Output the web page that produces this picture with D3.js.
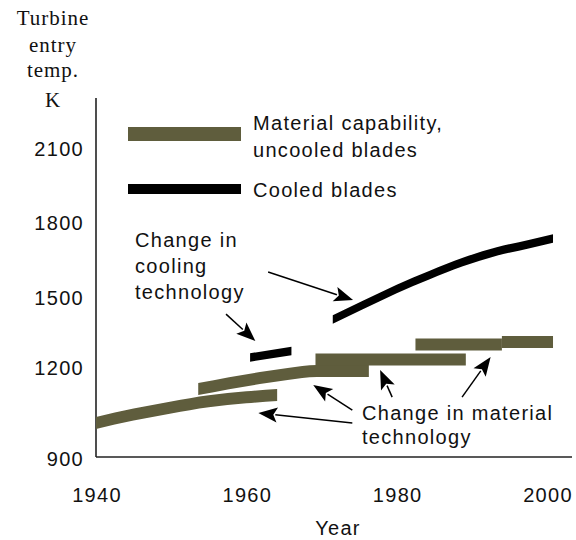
<!DOCTYPE html>
<html>
<head>
<meta charset="utf-8">
<script src="https://cdn.jsdelivr.net/npm/d3@7"></script>
<style>
  html, body { margin: 0; padding: 0; background: #fff; }
  svg { display: block; }
  .sans { font-family: "Liberation Sans", Arial, sans-serif; font-size: 20px; letter-spacing: 1.3px; fill: #111; }
  .serif { font-family: "Liberation Serif", "Times New Roman", serif; font-size: 21px; letter-spacing: 1px; fill: #111; }
</style>
</head>
<body>
<svg id="chart" width="576" height="540"></svg>
<script>
// ---- Data (year, temperature K) ----
const xTicks = [1940, 1960, 1980, 2000];
const yTicks = [900, 1200, 1500, 1800, 2100];

// Material capability, uncooled blades (olive bands)
const material1 = [[1940, 1015], [1945, 1043], [1950, 1067], [1955, 1088], [1960, 1101], [1964.1, 1109]];
const material2 = [[1953.6, 1129], [1957.7, 1149], [1961.8, 1166], [1965.5, 1180], [1969.4, 1190], [1976.3, 1190]];
const material3 = [[1969.2, 1236], [1989.2, 1236]];
const material4 = [[1982.5, 1301], [1994, 1301]];
const material5 = [[1994, 1311], [2000.8, 1311]];

// Cooled blades (black)
const cooled1 = [[1960.5, 1245], [1966, 1273]];
const cooled2 = [[1971.5, 1408], [1975.5, 1470], [1980, 1536], [1984.4, 1592], [1988.8, 1644], [1993.3, 1686], [1997.7, 1716], [2000.8, 1738]];

// Annotation arrows: [from, tip] in data units
const coolingArrows = [
  [[1962.9, 1604], [1974.2, 1491]],
  [[1957.3, 1431], [1961.2, 1316]]
];
const materialArrows = [
  [[1974.1, 1015], [1961.6, 1048]],
  [[1974.1, 1058], [1968.9, 1143]],
  [[1979.4, 1102], [1977.8, 1193]],
  [[1988.7, 1102], [1992.5, 1247]]
];

const yTitle = ["Turbine", "entry", "temp.", "K"];
const legendLabels = [["Material capability,", "uncooled blades"], ["Cooled blades"]];
const coolingText = ["Change in", "cooling", "technology"];
const materialText = ["Change in material", "technology"];
const xTitle = "Year";

// ---- Drawing ----
const OLIVE = "#5f5d3d";
const svg = d3.select("#chart");

const x = d3.scaleLinear().domain([1940, 2000]).range([96, 547]);
const y = d3.scaleLinear().domain(yTicks).range([457, 368, 298, 223, 149]);

// Axes lines
svg.append("line").attr("x1", x(1940)).attr("x2", 572).attr("y1", y(900)).attr("y2", y(900))
  .attr("stroke", "#222").attr("stroke-width", 1.6);
svg.append("line").attr("x1", x(1940)).attr("x2", x(1940)).attr("y1", 98).attr("y2", y(900))
  .attr("stroke", "#222").attr("stroke-width", 1.6);

// Tick labels
svg.selectAll(".ylab").data(yTicks).join("text")
  .attr("class", "sans")
  .attr("x", 84).attr("y", d => y(d) + (d === 900 ? 2 : 0)).attr("dy", "0.36em")
  .attr("text-anchor", "end").text(d => d);
svg.selectAll(".xlab").data(xTicks).join("text")
  .attr("class", "sans")
  .attr("x", d => x(d) + 1).attr("y", 502)
  .attr("text-anchor", "middle").text(d => d);
svg.append("text").attr("class", "sans").attr("x", 338).attr("y", 535)
  .attr("text-anchor", "middle").text(xTitle);

// Y title
const yBase = [25, 52, 77, 107];
svg.selectAll(".ytitle").data(yTitle).join("text")
  .attr("class", "serif").attr("x", 53).attr("y", (d, i) => yBase[i])
  .attr("text-anchor", "middle").text(d => d);

// Bands
function band(data, half, color) {
  const a = d3.area()
    .x(d => x(d[0]))
    .y0(d => y(d[1]) + half)
    .y1(d => y(d[1]) - half)
    .curve(d3.curveMonotoneX);
  svg.append("path").attr("d", a(data)).attr("fill", color);
}
[material1, material2, material3, material4, material5].forEach(d => band(d, 6, OLIVE));
[cooled1, cooled2].forEach(d => band(d, 4.2, "#000"));

// Legend
svg.append("rect").attr("x", 128).attr("y", 127).attr("width", 113).attr("height", 14).attr("fill", OLIVE);
svg.append("rect").attr("x", 128).attr("y", 184).attr("width", 113).attr("height", 10).attr("fill", "#000");
svg.append("text").attr("class", "sans").attr("x", 253).attr("y", 130).text(legendLabels[0][0]);
svg.append("text").attr("class", "sans").attr("x", 253).attr("y", 157).text(legendLabels[0][1]);
svg.append("text").attr("class", "sans").attr("x", 253).attr("y", 197).text(legendLabels[1][0]);

// Annotation text
svg.selectAll(".ctext").data(coolingText).join("text")
  .attr("class", "sans").attr("x", 135).attr("y", (d, i) => 247 + i * 26).text(d => d);
svg.selectAll(".mtext").data(materialText).join("text")
  .attr("class", "sans").attr("x", 362).attr("y", (d, i) => 420 + i * 24).text(d => d);

// Arrows
function arrow(pair) {
  const [x0, y0] = [x(pair[0][0]), y(pair[0][1])];
  const [x1, y1] = [x(pair[1][0]), y(pair[1][1])];
  const dx = x1 - x0, dy = y1 - y0, len = Math.hypot(dx, dy);
  const ux = dx / len, uy = dy / len;
  const L = 19, W = 7.5;
  const bx = x1 - ux * L, by = y1 - uy * L;
  svg.append("line").attr("x1", x0).attr("y1", y0).attr("x2", bx + ux * 2).attr("y2", by + uy * 2)
    .attr("stroke", "#000").attr("stroke-width", 1.5);
  svg.append("polygon")
    .attr("points", [[x1, y1], [bx - uy * W, by + ux * W], [bx + ux * 4, by + uy * 4], [bx + uy * W, by - ux * W]].map(p => p.join(",")).join(" "))
    .attr("fill", "#000");
}
coolingArrows.forEach(arrow);
materialArrows.forEach(arrow);
</script>
</body>
</html>
